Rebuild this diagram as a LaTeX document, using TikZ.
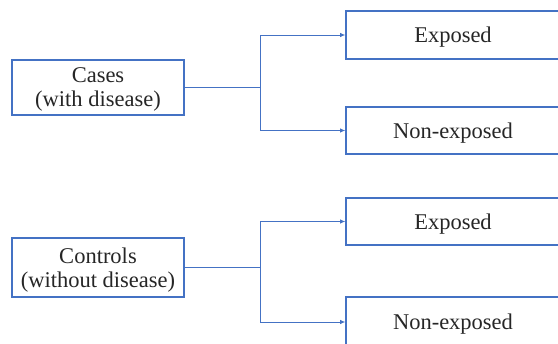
\documentclass[tikz,border=0pt]{standalone}
\usepackage{fontspec}
\setmainfont{Liberation Serif}
\usetikzlibrary{arrows.meta}
\definecolor{boxblue}{HTML}{4472C4}
\definecolor{txtgray}{HTML}{262626}
\tikzset{
	grp/.style={draw=boxblue, line width=1.6pt, text=txtgray, align=center,
		minimum width=172pt, inner sep=0pt, text depth=0pt,
		font=\rmfamily\fontsize{22.5}{24}\selectfont},
	res/.style={draw=boxblue, line width=1.6pt, text=txtgray,
		minimum width=214pt, inner sep=0pt, text height=16pt, text depth=0pt,
		font=\rmfamily\fontsize{22.5}{24}\selectfont},
	link/.style={draw=boxblue, line width=0.8pt},
	arr/.style={link, -{Latex[length=5pt,width=4.5pt]}}
}
\begin{document}
\begin{tikzpicture}[x=1pt, y=-1pt]
				\clip (0, 0) rectangle (558, 344);
				\useasboundingbox (0, 0) rectangle (558, 344);
				\node[grp, minimum height=55pt] (cas) at (98, 87.5) {Cases\\(with disease)};
				\node[grp, minimum height=59pt] (con) at (98, 267.5) {Controls\\(without disease)};
				\node[res, minimum height=48pt] (e1) at (453, 35) {Exposed};
				\node[res, minimum height=47pt] (n1) at (453, 130.5) {Non-exposed};
				\node[res, minimum height=47pt] (e2) at (453, 221.5) {Exposed};
				\node[res, minimum height=50pt] (n2) at (453, 322) {Non-exposed};
				\coordinate (j1) at (260, 87.5);
				\coordinate (j2) at (260, 267.5);
				\draw[link] (cas) -- (j1);
				\draw[arr] (j1) |- (e1);
				\draw[arr] (j1) |- (n1);
				\draw[link] (con) -- (j2);
				\draw[arr] (j2) |- (e2);
				\draw[arr] (j2) |- (n2);
			\end{tikzpicture}
\end{document}
